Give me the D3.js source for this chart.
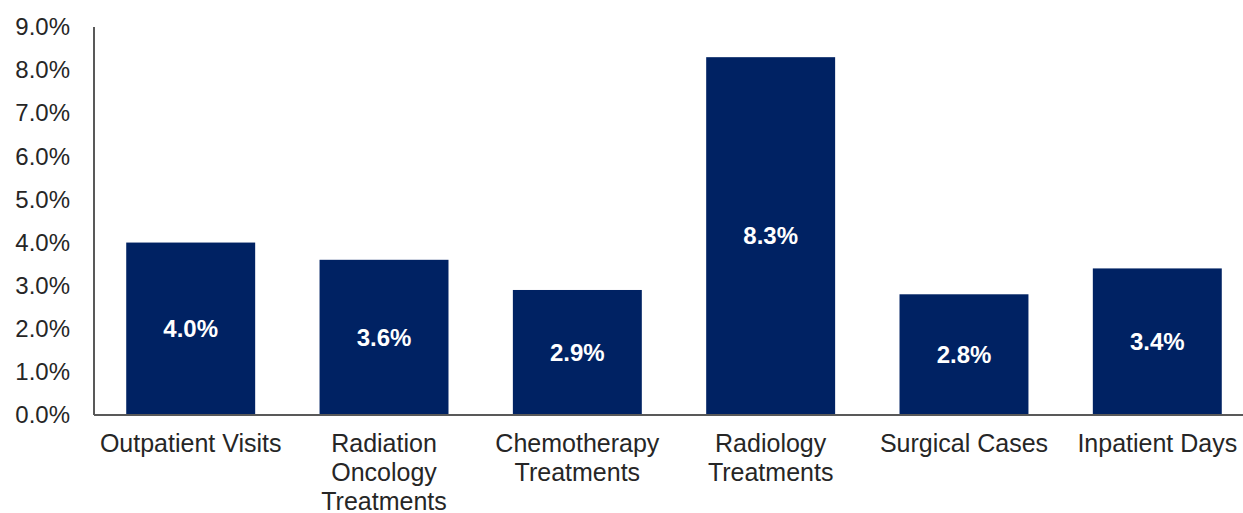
<!DOCTYPE html>
<html>
<head>
<meta charset="utf-8">
<script src="https://cdn.jsdelivr.net/npm/d3@7"></script>
<style>
  body { margin: 0; background: #fff; }
  svg { display: block; font-family: "Liberation Sans", Arial, sans-serif; }
</style>
</head>
<body>
<svg id="mainChart" width="1243" height="513"></svg>
<script>
const categories = ["Outpatient Visits", "Radiation Oncology Treatments", "Chemotherapy Treatments",
  "Radiology Treatments", "Surgical Cases", "Inpatient Days"];
const values = [4.0, 3.6, 2.9, 8.3, 2.8, 3.4];
const yTicks = [0, 1, 2, 3, 4, 5, 6, 7, 8, 9];

const attr = { width: 1243, height: 513, left: 94, right: 1254, top: 27, bottom: 415 };
const svg = d3.select("svg#mainChart");

const scaleX = d3.scaleBand()
  .domain(categories)
  .range([attr.left, attr.right])
  .paddingInner(0.333)
  .paddingOuter(0.1667);

const scaleY = d3.scaleLinear()
  .domain([0, 9])
  .range([attr.bottom, attr.top]);

// y axis: labels only, plus a plain line
const axisY = d3.axisLeft(scaleY)
  .tickValues(yTicks)
  .tickSize(0)
  .tickPadding(24)
  .tickFormat(d => d.toFixed(1) + "%");

const gy = svg.append("g")
  .attr("transform", `translate(${attr.left},0)`)
  .call(axisY);
gy.select(".domain").remove();
gy.selectAll("text")
  .style("font-size", "24px")
  .style("font-family", "Liberation Sans, Arial, sans-serif")
  .style("fill", "#262626");

// bars
svg.selectAll(".bar")
  .data(values)
  .enter()
  .append("rect")
  .attr("class", "bar")
  .attr("x", (d, i) => scaleX(categories[i]))
  .attr("y", d => scaleY(d))
  .attr("width", scaleX.bandwidth())
  .attr("height", d => attr.bottom - scaleY(d))
  .style("fill", "#002263");

// axis lines
svg.append("line")
  .attr("x1", attr.left).attr("x2", attr.left)
  .attr("y1", scaleY(9)).attr("y2", attr.bottom)
  .attr("stroke", "#595959").attr("stroke-width", 2);
svg.append("line")
  .attr("x1", attr.left).attr("x2", attr.width)
  .attr("y1", attr.bottom).attr("y2", attr.bottom)
  .attr("stroke", "#595959").attr("stroke-width", 2);

// value labels in middle of bars
svg.selectAll(".val")
  .data(values)
  .enter()
  .append("text")
  .attr("class", "val")
  .attr("x", (d, i) => scaleX(categories[i]) + scaleX.bandwidth() / 2)
  .attr("y", d => (scaleY(d) + attr.bottom) / 2)
  .attr("dy", "0.35em")
  .attr("text-anchor", "middle")
  .style("font-size", "24px")
  .style("font-weight", "bold")
  .style("fill", "#fff")
  .text(d => d.toFixed(1) + "%");

// category labels, wrapped by width
const maxW = scaleX.step() - 4;
categories.forEach(cat => {
  const cx = scaleX(cat) + scaleX.bandwidth() / 2;
  const t = svg.append("text")
    .attr("text-anchor", "middle")
    .style("font-size", "25px")
    .style("fill", "#262626");
  const words = cat.split(" ");
  let lines = [];
  let cur = [];
  const probe = t.append("tspan");
  words.forEach(w => {
    const test = cur.concat(w).join(" ");
    probe.text(test);
    if (probe.node().getComputedTextLength() > maxW && cur.length) {
      lines.push(cur.join(" "));
      cur = [w];
    } else {
      cur.push(w);
    }
  });
  lines.push(cur.join(" "));
  probe.remove();
  lines.forEach((ln, i) => {
    t.append("tspan")
      .attr("x", cx)
      .attr("y", 452 + i * 29)
      .text(ln);
  });
});
</script>
</body>
</html>
